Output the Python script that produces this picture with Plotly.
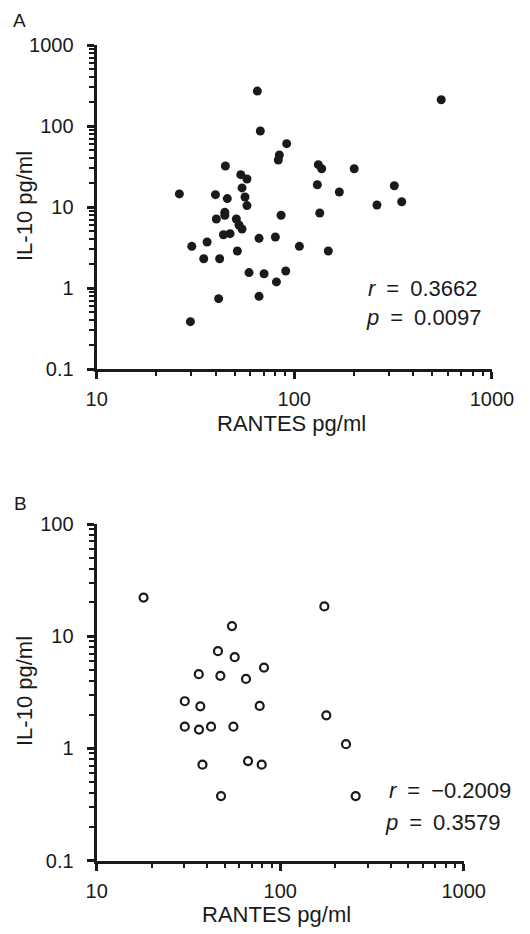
import plotly.graph_objects as go

# ---------------- data ----------------
a_rantes = [65.0, 67.3, 91.5, 84.0, 83.0, 44.8, 53.6, 57.6, 26.2, 39.9,
            45.8, 54.4, 56.3, 57.6, 44.5, 44.5, 85.7, 40.3, 50.9, 52.5,
            54.4, 43.8, 47.3, 36.2, 30.3, 66.3, 80.2, 51.5, 34.8, 41.9,
            59.0, 70.3, 90.5, 81.2, 41.4, 66.3, 29.8,
            554, 132.3, 137.6, 201, 130.8, 320.7, 169, 349.6, 262, 134.5,
            106.1, 148.6]
a_il10 = [270, 86.8, 60.5, 43.8, 38.0, 32.1, 25.1, 22.2, 14.5, 14.2,
          12.7, 17.2, 13.3, 10.4, 8.6, 7.9, 7.9, 7.1, 7.1, 6.0,
          5.35, 4.55, 4.69, 3.70, 3.27, 4.10, 4.26, 2.86, 2.30, 2.30,
          1.55, 1.50, 1.62, 1.19, 0.738, 0.789, 0.384,
          211, 33.3, 29.7, 29.7, 18.8, 18.3, 15.3, 11.6, 10.6, 8.43,
          3.27, 2.86]

b_rantes = [18.0, 54.6, 45.8, 56.5, 81.6, 36.0, 47.2, 65.1, 30.2, 36.7,
            77.3, 30.2, 36.1, 42.0, 55.6, 37.7, 66.8, 79.3, 47.6,
            174, 178.4, 228.4, 257.8]
b_il10 = [22.1, 12.3, 7.35, 6.5, 5.25, 4.58, 4.43, 4.16, 2.63, 2.37,
          2.39, 1.56, 1.47, 1.56, 1.56, 0.715, 0.77, 0.715, 0.375,
          18.4, 1.97, 1.09, 0.375]

x_tickvals = [10, 100, 1000]
x_ticktext = ["10", "100", "1000"]
ya_tickvals = [0.1, 1, 10, 100, 1000]
ya_ticktext = ["0.1", "1", "10", "100", "1000"]
yb_tickvals = [0.1, 1, 10, 100]
yb_ticktext = ["0.1", "1", "10", "100"]

stats_a = ["<i>r</i>\u2002=\u20020.3662", "<i>p</i>\u2002=\u20020.0097"]
stats_b = ["<i>r</i>\u2002=\u2002\u22120.2009", "<i>p</i>\u2002=\u20020.3579"]

x_title = "RANTES pg/ml"
y_title = "IL-10 pg/ml"

# ---------------- layout helpers ----------------
W, H = 530, 934
INK = "#1a1a1a"
FONT = "Liberation Sans, Arial, Helvetica, sans-serif"
TICK_SIZE = 20
TITLE_SIZE = 22


def px_x(p):
    return p / W


def px_y(p):
    return 1 - p / H


def minor_vals(lo_exp, hi_exp):
    out = []
    for e in range(lo_exp, hi_exp):
        for m in range(2, 10):
            out.append(m * 10.0 ** e)
    return out


def axis_common(tickvals, ticktext, major_len, minor_len, minor_ticks):
    return dict(
        type="log",
        tickmode="array",
        tickvals=tickvals,
        ticktext=ticktext,
        ticks="outside",
        ticklen=major_len,
        tickwidth=2.5,
        tickcolor=INK,
        showline=True,
        linewidth=3.2,
        linecolor=INK,
        showgrid=False,
        zeroline=False,
        tickfont=dict(family=FONT, size=TICK_SIZE, color=INK),
        minor=dict(ticks="outside", ticklen=minor_len, tickwidth=2.3,
                   tickcolor=INK, tickmode="array", tickvals=minor_ticks,
                   showgrid=False),
        fixedrange=True,
    )


fig = go.Figure()

fig.add_trace(go.Scatter(
    x=a_rantes, y=a_il10, mode="markers",
    marker=dict(symbol="circle", size=9, color=INK, line=dict(width=0)),
    xaxis="x", yaxis="y", showlegend=False, hoverinfo="x+y"))

fig.add_trace(go.Scatter(
    x=b_rantes, y=b_il10, mode="markers",
    marker=dict(symbol="circle-open", size=8, color=INK, line=dict(width=2.2)),
    xaxis="x2", yaxis="y2", showlegend=False, hoverinfo="x+y"))

xa = axis_common(x_tickvals, x_ticktext, 7, 4, minor_vals(1, 3))
xa.update(domain=[px_x(96.7), px_x(491.9)], range=[1, 3], anchor="y",
          ticklabelstandoff=3)
ya = axis_common(ya_tickvals, ya_ticktext, 7, 5, minor_vals(-1, 3))
ya.update(domain=[px_y(369), px_y(45)], range=[-1, 3], anchor="x",
          ticklabelstandoff=9)

xb = axis_common(x_tickvals, x_ticktext, 7, 4, minor_vals(1, 3))
xb.update(domain=[px_x(96.7), px_x(463.7)], range=[1, 3], anchor="y2",
          ticklabelstandoff=3)
yb = axis_common(yb_tickvals, yb_ticktext, 7, 5, minor_vals(-1, 2))
yb.update(domain=[px_y(860.5), px_y(524)], range=[-1, 2], anchor="x2",
          ticklabelstandoff=9)

annotations = []


def txt(text, x, y, size, xanchor="center", yanchor="middle", angle=0):
    annotations.append(dict(
        text=text, x=px_x(x), y=px_y(y), xref="paper", yref="paper",
        showarrow=False, xanchor=xanchor, yanchor=yanchor, textangle=angle,
        font=dict(family=FONT, size=size, color=INK)))


# panel letters
txt("A", 19, 21, 19)
txt("B", 20, 504, 19)

# axis titles
txt(x_title, 291, 423, TITLE_SIZE)
txt(x_title, 276, 914, TITLE_SIZE)
txt(y_title, 24, 206, TITLE_SIZE, angle=-90)
txt(y_title, 24, 691, TITLE_SIZE, angle=-90)

# stats
txt(stats_a[0], 366, 288, TITLE_SIZE, xanchor="left")
txt(stats_a[1], 364, 317, TITLE_SIZE, xanchor="left")
txt(stats_b[0], 387, 790, TITLE_SIZE, xanchor="left")
txt(stats_b[1], 383, 822, TITLE_SIZE, xanchor="left")

fig.update_layout(
    width=W, height=H,
    margin=dict(l=0, r=0, t=0, b=0, autoexpand=False),
    paper_bgcolor="white",
    plot_bgcolor="white",
    xaxis=xa, yaxis=ya, xaxis2=xb, yaxis2=yb,
    annotations=annotations,
    font=dict(family=FONT, color=INK),
)

fig.write_html(
    "out.html",
    config={"displayModeBar": False},
    post_script="document.body.style.margin='0';document.body.style.overflow='hidden';",
)
